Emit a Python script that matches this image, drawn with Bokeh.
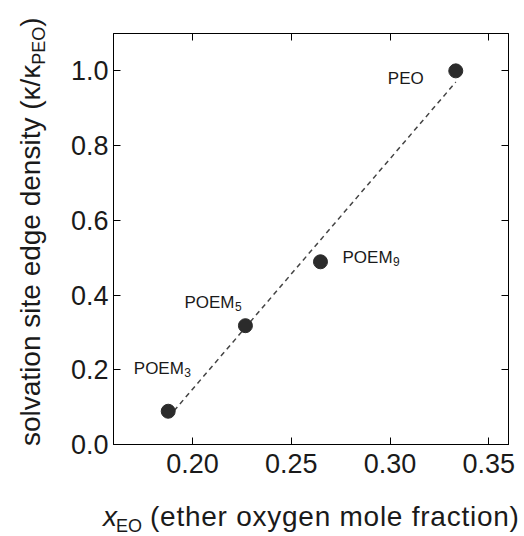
from bokeh.plotting import figure
from bokeh.layouts import row, column
from bokeh.models import (Label, LinearAxis, FixedTicker, PrintfTickFormatter,
                          CustomJSTickFormatter, Range1d, Div)
from bokeh.embed import file_html
from bokeh.resources import INLINE

# ---- data ----
polymers = ["POEM", "POEM", "POEM", "PEO"]
polymer_subs = ["3", "5", "9", ""]
x_eo = [0.1877, 0.2268, 0.2648, 0.3333]
kappa_rel = [0.089, 0.318, 0.489, 1.0]
fit_x = [0.1877, 0.3333]
fit_y = [0.072, 0.970]
x_ticks = [0.20, 0.25, 0.30, 0.35]
y_ticks = [0.0, 0.2, 0.4, 0.6, 0.8, 1.0]

x_title = ["x", "EO", "(ether oxygen mole fraction)"]
y_title = ["solvation site edge density (κ/κ", "PEO", ")"]

# ---- styles ----
FONT = "Liberation Sans"
INK = "#1a1a1a"
W = {'P': .667, 'O': .778, 'E': .667, 'M': .833}


def tw(s, size):
    return sum(W.get(c, .556) for c in s) * size


YT_W = 62          # width of the y-title strip
XT_H = 44          # height of the x-title strip
TOTAL_W, TOTAL_H = 524, 536
PW, PH = TOTAL_W - YT_W, TOTAL_H - XT_H

p = figure(width=PW, height=PH, output_backend="svg", toolbar_location=None,
           x_range=Range1d(0.16, 0.36), y_range=Range1d(0.0, 1.1),
           min_border_left=113 - YT_W, min_border_right=16, min_border_top=33,
           min_border_bottom=PH - 444, x_axis_location=None, y_axis_location=None,
           margin=(0, 0, 0, 0))
p.grid.visible = False
p.outline_line_color = "black"
p.outline_line_width = 1
p.background_fill_color = "white"
p.border_fill_color = "white"


def make_axis(ticks, fmt, labels=True):
    ax = LinearAxis(ticker=FixedTicker(ticks=ticks))
    ax.formatter = PrintfTickFormatter(format=fmt) if labels else CustomJSTickFormatter(code="return ''")
    ax.major_tick_in = 7
    ax.major_tick_out = 0
    ax.minor_tick_line_color = None
    ax.axis_line_color = "black"
    ax.major_tick_line_color = "black"
    ax.major_label_text_font = FONT
    ax.major_label_text_font_size = "27px"
    ax.major_label_text_color = INK
    return ax


xb = make_axis(x_ticks, "%.2f")
xb.major_label_standoff = 9
p.add_layout(xb, "below")
yl = make_axis(y_ticks, "%.1f")
yl.major_label_standoff = 5
p.add_layout(yl, "left")
p.add_layout(make_axis(x_ticks, "", labels=False), "above")
p.add_layout(make_axis(y_ticks, "", labels=False), "right")

# dashed fit line and points
p.line(fit_x, fit_y, line_color="#444444", line_width=1.5, line_dash="5 4")
p.scatter(x_eo, kappa_rel, size=14, fill_color="#2b2b2b", line_color="#2b2b2b")

# point labels (offsets in px from the point)
LBL = 17
SUB = 12
offsets = {"PEO": (-32, -7.3), "3": (-34.4, 42.4), "5": (-61, 23.3), "9": (22, 4.3)}
for name, sub, xv, yv in zip(polymers, polymer_subs, x_eo, kappa_rel):
    key = sub if sub else name
    dx, dy = offsets[key]
    if sub:
        p.add_layout(Label(x=xv, y=yv, x_offset=dx, y_offset=dy, text=name,
                           text_font=FONT, text_font_size=f"{LBL}px", text_color=INK,
                           text_align="left", text_baseline="alphabetic"))
        p.add_layout(Label(x=xv, y=yv, x_offset=dx + tw(name, LBL) + 0.5, y_offset=dy - 4,
                           text=sub, text_font=FONT, text_font_size=f"{SUB}px",
                           text_color=INK, text_align="left", text_baseline="alphabetic"))
    else:
        p.add_layout(Label(x=xv, y=yv, x_offset=dx, y_offset=dy, text=name,
                           text_font=FONT, text_font_size=f"{LBL}px", text_color=INK,
                           text_align="right", text_baseline="alphabetic"))

# ---- axis titles as HTML (real text, with subscripts) ----
T, TS = 28, 18
ASC = 0.905 * T    # baseline distance from the top of the line box
base_css = (f"position:absolute; white-space:nowrap; font-family:'{FONT}'; "
            f"font-size:{T}px; line-height:normal; color:{INK}; margin:0; padding:0;")

# x title: baseline at page y = 526, pieces at page x = 104 / 116 / 150
xb_top = 526 - PH - ASC
x_html = (f'<div style="{base_css} left:103px; top:{xb_top:.1f}px;"><i>{x_title[0]}</i></div>'
          f'<div style="{base_css} left:116px; top:{xb_top:.1f}px;">'
          f'<span style="font-size:{TS}px; position:relative; top:6px;">{x_title[1]}</span></div>'
          f'<div style="{base_css} left:150px; top:{xb_top:.1f}px; letter-spacing:0.75px;">'
          f'{x_title[2]}</div>')
xdiv = Div(text=x_html, width=TOTAL_W, height=XT_H, margin=(0, 0, 0, 0),
           styles={"position": "relative", "overflow": "visible"})

# y title: rotated to read bottom-to-top, starts at page y = 446, baseline at x = 40
y_html = (f'<div style="{base_css} left:{40 - ASC:.1f}px; top:446px; '
          f'transform:rotate(-90deg); transform-origin:0 0;">'
          f'{y_title[0]}<span style="font-size:{TS}px; position:relative; top:5px;">'
          f'{y_title[1]}</span>{y_title[2]}</div>')
ydiv = Div(text=y_html, width=YT_W, height=PH, margin=(0, 0, 0, 0),
           styles={"position": "relative", "overflow": "visible"})

layout = column(row(ydiv, p, spacing=0, margin=(0, 0, 0, 0)), xdiv, spacing=0,
                margin=(0, 0, 0, 0))
open("out.html", "w").write(file_html(layout, INLINE))
